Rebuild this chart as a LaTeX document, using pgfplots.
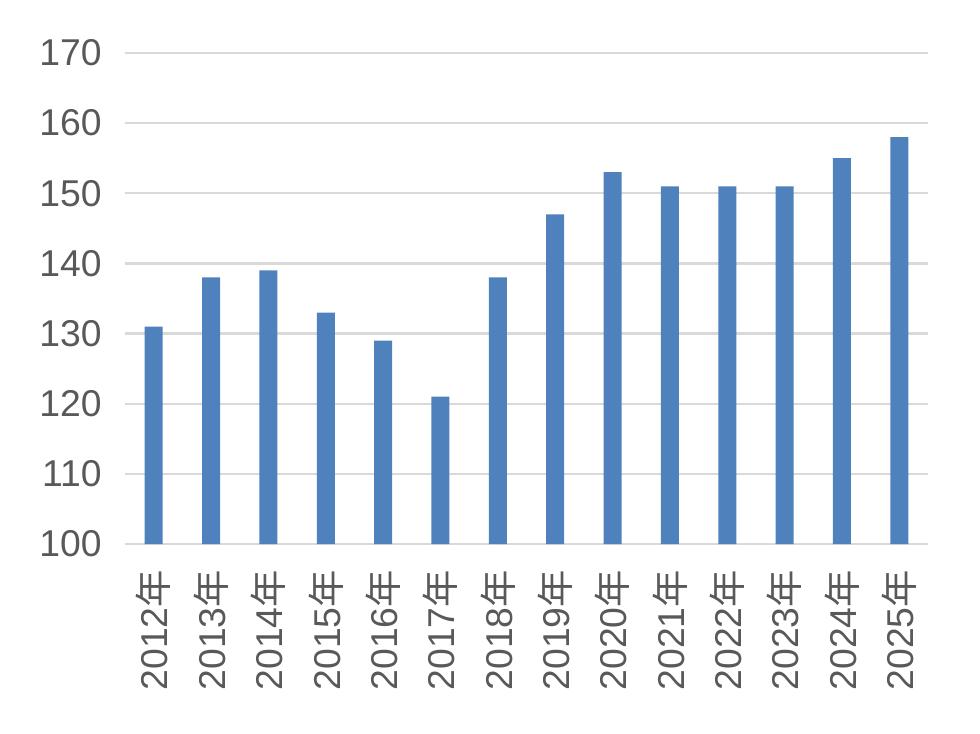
\documentclass[border=0pt]{standalone}
\usepackage{pgfplots}
\pgfplotsset{compat=1.18}
\usepackage{fontspec}
\setmainfont{Liberation Sans}
\newfontfamily\cjk{Noto Sans CJK SC}
\definecolor{barblue}{HTML}{4F81BD}
\definecolor{gridgray}{HTML}{D9D9D9}
\definecolor{txtgray}{HTML}{595959}
\begin{document}
\begin{tikzpicture}
\path[use as bounding box] (-93.75pt,-142.5pt) rectangle (641.25pt,408pt);
\begin{axis}[
  at={(0,0)}, anchor=south west,
  scale only axis,
  width=602.25pt, height=368.25pt,
  xmin=-0.5, xmax=13.5,
  ymin=100, ymax=170,
  ytick={100,110,...,170},
  xtick={0,...,13},
  xticklabels={2012{\cjk 年},2013{\cjk 年},2014{\cjk 年},2015{\cjk 年},2016{\cjk 年},2017{\cjk 年},2018{\cjk 年},2019{\cjk 年},2020{\cjk 年},2021{\cjk 年},2022{\cjk 年},2023{\cjk 年},2024{\cjk 年},2025{\cjk 年}},
  x tick label style={rotate=90, anchor=east, font=\fontsize{28}{32}\selectfont, text=txtgray},
  y tick label style={font=\fontsize{28}{32}\selectfont, text=txtgray},
  /pgf/number format/assume math mode=true,
  xtick style={draw=none}, ytick style={draw=none},
  ymajorgrids, grid style={gridgray, line width=1.7pt},
  axis line style={draw=none},
  axis x line*=bottom, axis y line*=left,
  xticklabel shift=16pt,
  yticklabel shift=14pt,
  clip=false,
]
\draw[gridgray, line width=2pt] (axis cs:-0.5,100) -- (axis cs:13.5,100);
\addplot[ybar, bar width=13.5pt, fill=barblue, draw=none] coordinates {
(0,131) (1,138) (2,139) (3,133) (4,129) (5,121) (6,138)
(7,147) (8,153) (9,151) (10,151) (11,151) (12,155) (13,158)
};
\end{axis}
\end{tikzpicture}
\end{document}
